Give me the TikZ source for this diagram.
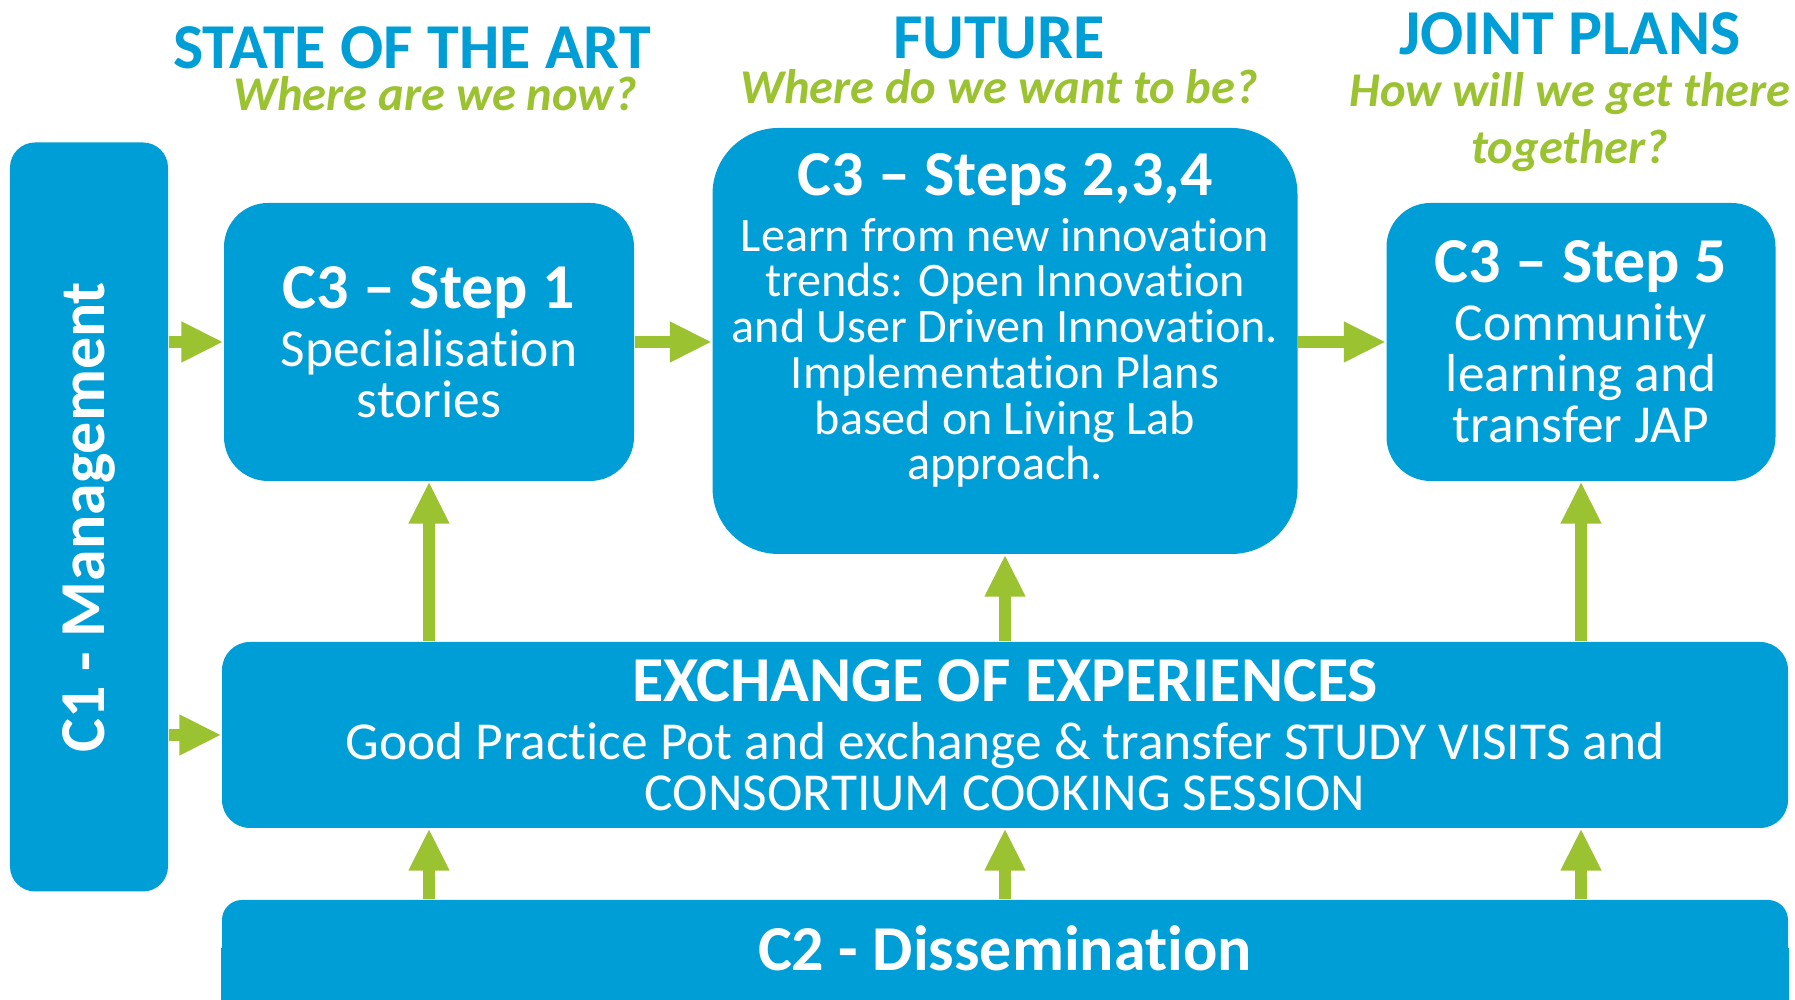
\documentclass[tikz,border=0pt]{standalone}
\usepackage{fontspec}
\setmainfont{Carlito}[Ligatures=NoCommon]
\usetikzlibrary{arrows.meta,positioning}
\definecolor{boxblue}{RGB}{0,158,214}
\definecolor{arrowgreen}{RGB}{155,194,48}
\pgfdeclarelayer{background}
\pgfsetlayers{background,main}

\begin{document}
\begin{tikzpicture}[
  box/.style={fill=boxblue, text=white, align=center, inner sep=0pt,
    font=\fontsize{15.2}{14.5}\selectfont},
  flow/.style={draw=arrowgreen, line width=3.6pt,
    -{Triangle[length=0.42cm,width=0.38cm]}},
  head/.style={text=boxblue, font=\bfseries\fontsize{18.2}{20}\selectfont},
  ask/.style={text=arrowgreen, align=center,
    font=\bfseries\itshape\fontsize{13.8}{16.2}\selectfont}
]
\useasboundingbox (0,0) rectangle (17.95,10);
%
\node[head] (soa) at (4.12,9.52) {STATE OF THE ART};
\node[ask] (soaq) at (4.35,9.06) {Where are we now?};
\node[head] (fut) at (9.99,9.62) {FUTURE};
\node[ask] (futq) at (9.99,9.13) {Where do we want to be?};
\node[head] (jp) at (15.70,9.66) {JOINT PLANS};
\node[ask] (jpq) at (15.70,8.78) {How will we get there\\together?};
%
\node[box, rounded corners=0.25cm, minimum width=1.58cm, minimum height=7.49cm]
  (mgmt) at (0.89,4.83) {\rotatebox{90}{\bfseries\fontsize{18.2}{20}\selectfont C1 - Management}};
\node[box, rounded corners=0.44cm, minimum width=4.10cm, minimum height=2.78cm]
  (step1) at (4.29,6.58) {{\bfseries\fontsize{18.2}{20}\selectfont C3 – Step 1}\\[2pt]
  Specialisation\\stories};
\node[box, rounded corners=0.66cm, minimum width=5.85cm, minimum height=4.26cm,
  font=\fontsize{13.7}{13}\selectfont]
  (steps) at (10.05,6.59) {{\bfseries\fontsize{18.2}{20}\selectfont C3 – Steps 2,3,4}\\[3pt]
  Learn from new innovation\\trends: Open Innovation\\and User Driven Innovation.\\
  Implementation Plans\\based on Living Lab\\approach.\\[1pt]};
\node[box, rounded corners=0.44cm, minimum width=3.89cm, minimum height=2.78cm]
  (step5) at (15.81,6.58) {{\bfseries\fontsize{18.2}{20}\selectfont C3 – Step 5}\\[2pt]
  Community\\learning and\\transfer JAP};
\node[box, rounded corners=0.28cm, minimum width=15.66cm, minimum height=1.86cm]
  (exch) at (10.05,2.65) {{\bfseries\fontsize{18.2}{20}\selectfont EXCHANGE OF EXPERIENCES}\\[2pt]
  Good Practice Pot and exchange \& transfer STUDY VISITS and\\CONSORTIUM COOKING SESSION};
\node[box, rounded corners=0.2cm, minimum width=15.66cm, minimum height=0.96cm]
  (diss) at (10.05,0.52) {\bfseries\fontsize{18.2}{20}\selectfont C2 - Dissemination};
\begin{pgfonlayer}{background}
\fill[boxblue] (diss.west) rectangle ([yshift=-0.4cm]diss.south east);
\end{pgfonlayer}
%
\draw[flow] (mgmt.east |- step1.west) -- (step1.west);
\draw[flow] (mgmt.east |- exch.west) -- (exch.west);
\draw[flow] (step1.east) -- (step1.east -| steps.west);
\draw[flow] (steps.east |- step5.west) -- (step5.west);
\draw[flow] (step1.south |- exch.north) -- (step1.south);
\draw[flow] (steps.south |- exch.north) -- (steps.south);
\draw[flow] (step5.south |- exch.north) -- (step5.south);
\draw[flow] (step1.south |- diss.north) -- (step1.south |- exch.south);
\draw[flow] (steps.south |- diss.north) -- (steps.south |- exch.south);
\draw[flow] (step5.south |- diss.north) -- (step5.south |- exch.south);
\end{tikzpicture}
\end{document}
